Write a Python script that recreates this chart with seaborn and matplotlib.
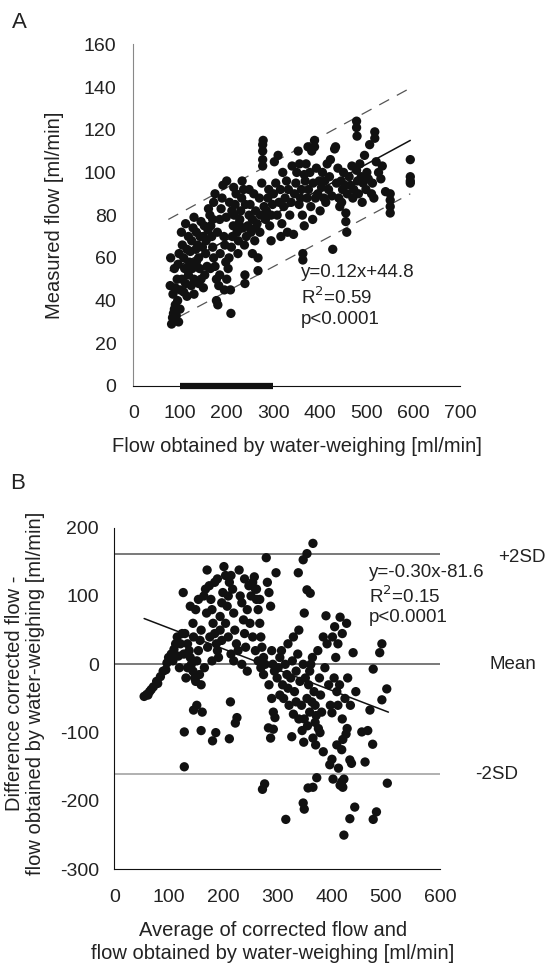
import numpy as np
import pandas as pd
import seaborn as sns
import matplotlib.pyplot as plt

# panel A: measured flow vs flow from water-weighing
a_x = [80, 79, 82, 84, 86, 88, 90, 92, 95, 85, 90, 94, 88, 96, 98, 100, 100, 97,
       103, 105, 108, 110, 104, 112, 115, 118, 120, 122, 125, 118, 112, 128, 126, 130, 130, 115, 108, 124,
       130, 135, 138, 140, 142, 145, 135, 148, 150, 152, 155, 158, 145, 140, 150, 156, 160, 134, 143, 153,
       161, 164, 166, 168, 170, 172, 175, 178, 178, 181, 183, 185, 180, 185, 188, 190, 192, 194, 196, 198,
       200, 170, 175, 186, 165, 195, 199, 172,
       200, 203, 205, 208, 209, 210, 212, 214, 216, 218, 220, 222, 225, 228, 230, 232, 233, 235, 238, 239,
       239, 236, 206, 224, 215, 240, 226, 211,
       242, 245, 248, 250, 252, 255, 258, 260, 262, 265, 267, 267, 270, 272, 275, 277, 277, 277, 277, 278,
       280, 255, 248, 262, 271,
       283, 285, 288, 290, 292, 295, 298, 300, 302, 305, 308, 310, 312, 315, 318, 320, 322, 325, 328, 330,
       332, 335, 338, 340, 343, 295, 316,
       345, 348, 350, 353, 355, 358, 360, 362, 363, 363, 366, 368, 370, 372, 375, 378, 380, 382, 385, 388,
       388, 390, 392, 395, 398, 400, 356, 374, 384, 366,
       403, 405, 408, 410, 412, 415, 418, 420, 425, 427, 431, 433, 435, 438, 440, 442, 445, 448, 450, 453,
       455, 455, 457, 458, 446, 422,
       462, 465, 468, 470, 472, 478, 478, 479, 478, 480, 482, 485, 488, 490, 492, 495, 498, 500, 503, 506,
       510, 512, 517, 517, 520, 515,
       525, 530, 533, 540, 550, 550, 550, 550, 593, 593, 593, 593]
a_y = [60, 47, 29, 32, 34, 36, 38, 33, 40, 43, 46, 50, 55, 57, 62, 45, 36, 30,
       72, 66, 60, 55, 50, 48, 42, 52, 58, 63, 68, 70, 76, 74, 55, 50, 43, 64, 44, 47,
       79, 72, 66, 60, 55, 50, 58, 65, 70, 75, 62, 56, 77, 48, 46, 68, 73, 64, 70, 52,
       83, 80, 75, 70, 65, 60, 56, 50, 40, 38, 47, 52, 72, 78, 83, 88, 94, 70, 66, 58,
       96, 78, 90, 62, 55, 45, 79, 86,
       50, 55, 60, 45, 34, 65, 70, 75, 80, 85, 90, 72, 68, 78, 82, 88, 96, 74, 66, 52,
       48, 92, 86, 62, 93, 85, 76, 82,
       70, 75, 80, 85, 72, 78, 90, 68, 82, 76, 60, 54, 88, 80, 95, 103, 106, 110, 113, 115,
       84, 62, 92, 74, 72,
       78, 82, 88, 92, 75, 80, 85, 90, 105, 95, 80, 108, 86, 92, 76, 100, 84, 88, 96, 72,
       92, 80, 86, 103, 71, 68, 70,
       90, 95, 100, 110, 85, 88, 92, 80, 62, 59, 75, 96, 104, 88, 92, 100, 84, 110, 95, 115,
       112, 88, 102, 90, 96, 82, 104, 112, 78, 99,
       93, 100, 88, 96, 86, 104, 92, 98, 89, 64, 111, 112, 95, 102, 88, 84, 96, 92, 100, 94,
       81, 77, 72, 90, 86, 106,
       98, 94, 103, 88, 92, 124, 121, 117, 101, 96, 90, 104, 98, 86, 95, 108, 92, 100, 97, 113,
       90, 95, 119, 116, 105, 88,
       100, 97, 103, 91, 90, 87, 84, 81, 106, 98, 96, 95]

# regression line and limits of agreement (endpoints)
a_fit_x = [79, 593]
a_fit_y = [54, 115]
a_up_x = [75, 593]
a_up_y = [78, 139.5]
a_lo_x = [99, 593]
a_lo_y = [32.5, 90]
a_bar_x = [100, 300]
a_bar_y = [0, 0]

# panel B: Bland-Altman style difference plot
b_x = [55, 60, 65, 72, 78, 85, 90, 97, 103, 110, 116, 113, 105, 95, 80, 68, 62, 100, 108, 118, 120, 122, 125,
       127, 130, 135, 138, 140, 142, 145, 148, 150, 152, 155, 158, 160, 145, 150, 155, 140, 135, 128, 132,
       146, 157, 160, 146, 152, 162, 129, 129, 160,
       165, 168, 171, 175, 178, 180, 182, 185, 188, 190, 192, 195, 198, 200, 202, 170, 172, 176, 185, 190,
       195, 166, 181, 187, 180, 198,
       205, 208, 210, 212, 215, 218, 220, 222, 225, 228, 230, 232, 235, 238, 240, 242, 245, 248, 250, 210,
       215, 220, 235, 245, 212, 214, 223, 226, 205, 240,
       252, 255, 258, 260, 262, 265, 268, 270, 272, 275, 278, 280, 282, 285, 288, 290, 292, 295, 298, 300,
       255, 260, 265, 270, 275, 285, 290, 273, 277, 284, 288, 293, 293, 296, 262, 268,
       302, 305, 308, 310, 312, 315, 318, 320, 322, 325, 328, 330, 332, 335, 338, 340, 342, 345, 348, 350,
       316, 327, 330, 339, 348, 350, 346, 349, 348, 350, 335, 320, 305, 340,
       352, 355, 355, 361, 366, 357, 366, 366, 371, 373, 376, 379, 385, 355, 358, 360, 362, 365, 368, 370,
       372, 375, 378, 380, 382, 385, 388, 390, 392, 395, 398, 360, 356, 364, 370,
       401, 397, 401, 403, 413, 410, 416, 419, 421, 423, 423, 419, 421, 427, 429, 434, 434, 437, 443, 416,
       428, 440, 405, 408, 410, 412, 415, 420, 425, 430, 435, 445, 402, 406, 420, 412,
       456, 467, 462, 471, 476, 477, 483, 503, 477, 493, 489, 502, 493]
b_y = [-47, -44, -40, -33, -25, -18, -10, 2, 8, 22, 40, 30, 15, -8, -28, -37, -45, 10, 5, 12, -5, 30, 45,
       105, 45, 30, 20, 10, 0, -10, -20, -25, 5, 20, 35, 50, 60, 80, 95, 85, -5, 15, -20,
       40, -15, -30, -67, -60, -70, -99, -150, -97,
       100, 110, 138, 115, 95, 80, 60, 45, 30, 20, 10, 70, 90, 105, 143, 75, 25, 40, 120, 125,
       50, -5, -112, -100, 5, 35,
       60, 85, 100, 120, 130, 110, 75, 50, 30, 20, 138, 100, 90, 65, 45, 25, 80, 115, 60, 40,
       15, 5, 0, -10, -109, -55, -86, -78, 130, 125,
       100, 120, 128, 110, 95, 80, 60, 40, 25, 10, 0, 156, 120, 105, 85, 20, 0, -10, 134, -20,
       40, 20, 5, -5, -15, -30, -50, -183, -175, -93, -108, -95, -70, -78, 110, 95,
       -5, 10, 20, -30, -50, 0, -15, 30, -60, -20, 5, 40, -40, -10, 15, 50, -25, -60, 0, -80,
       -227, -106, -73, 134, 153, 75, -97, -114, -203, -212, -55, -35, -45, -80,
       -20, 162, 109, 104, 177, -181, -180, -108, -118, -166, -94, -100, -128, -50, -30, -10, 0, 10, -40, -60,
       -75, 20, -20, -45, -70, 40, -5, 71, 30, -30, -60, -70, -90, -55, -85,
       -71, -147, -139, -168, -152, -118, -177, -172, -180, -168, -250, -125, -110, -102, -94, -226, -140, -145, -209, 69,
       60, 17, -20, 10, -40, -60, -30, -80, -50, -20, -60, -40, 40, 55, 45, 30,
       -99, -97, -143, -67, -117, -227, -216, -174, -7, 30, 17, -36, -52]

b_fit_x = [55, 505]
b_fit_y = [67, -70]
b_mean = 0
b_sd2 = 161

df_a = pd.DataFrame({'x': a_x, 'y': a_y})
df_b = pd.DataFrame({'x': b_x, 'y': b_y})

sns.set_style('white')
plt.rcParams['font.family'] = ['Liberation Sans', 'DejaVu Sans']
plt.rcParams['axes.unicode_minus'] = False
txt = '#222222'
fs_tick = 14
fs_lab = 14.5
fs_ann = 13.5

fig = plt.figure(figsize=(5.46, 9.65), dpi=100)
axA = fig.add_axes([0.2441, 0.600, 0.5989, 0.3541])
axB = fig.add_axes([0.2093, 0.0992, 0.5965, 0.3540])

# ---- panel A ----
sns.scatterplot(data=df_a, x='x', y='y', ax=axA, color='#111111', s=45, edgecolor='none', zorder=3)
sns.lineplot(x=a_fit_x, y=a_fit_y, ax=axA, color='#111111', lw=1.1)
sns.lineplot(x=a_up_x, y=a_up_y, ax=axA, color='#555555', lw=0.9)
sns.lineplot(x=a_lo_x, y=a_lo_y, ax=axA, color='#555555', lw=0.9)
for l in axA.lines[1:]:
    l.set_linestyle((0, (9, 7)))
axA.plot(a_bar_x, a_bar_y, color='#111111', lw=4.5, solid_capstyle='butt', clip_on=False, zorder=4)

axA.set_xlim(0, 700)
axA.set_ylim(0, 160)
axA.set_xticks(np.arange(0, 701, 100))
axA.set_yticks(np.arange(0, 161, 20))
sns.despine(ax=axA)
axA.spines['left'].set_color('#888888')
axA.spines['bottom'].set_color('#111111')
axA.tick_params(axis='y', direction='out', length=6, width=1, color='#999999', pad=6, labelsize=fs_tick, labelcolor=txt)
axA.tick_params(axis='x', direction='out', length=6, width=1, color='#111111', pad=8, labelsize=fs_tick, labelcolor=txt)
axA.set_xlabel('Flow obtained by water-weighing [ml/min]', fontsize=fs_lab, color=txt, va='center')
axA.set_ylabel('Measured flow [ml/min]', fontsize=fs_lab, color=txt, va='center')
axA.xaxis.set_label_coords(0.50, -0.178)
axA.yaxis.set_label_coords(-0.24, 0.50)
axA.text(358, 53, 'y=0.12x+44.8', fontsize=fs_ann, color=txt, va='center')
axA.text(358, 41.5, 'R$^2$=0.59', fontsize=fs_ann, color=txt, va='center')
axA.text(358, 31, 'p<0.0001', fontsize=fs_ann, color=txt, va='center')

# ---- panel B ----
sns.scatterplot(data=df_b, x='x', y='y', ax=axB, color='#111111', s=45, edgecolor='none', zorder=3)
sns.lineplot(x=b_fit_x, y=b_fit_y, ax=axB, color='#111111', lw=1.1)
axB.axhline(b_sd2, color='#555555', lw=1.1)
axB.axhline(b_mean, color='#555555', lw=1.1)
axB.axhline(-b_sd2, color='#aaaaaa', lw=1.3)

axB.set_xlim(0, 600)
axB.set_ylim(-300, 200)
axB.set_xticks(np.arange(0, 601, 100))
axB.set_yticks(np.arange(-300, 201, 100))
sns.despine(ax=axB)
axB.spines['left'].set_color('#111111')
axB.spines['bottom'].set_color('#111111')
axB.tick_params(axis='y', direction='out', length=6, width=1, color='#111111', pad=5, labelsize=fs_tick, labelcolor=txt)
axB.tick_params(axis='x', direction='out', length=6, width=1, color='#111111', pad=8, labelsize=fs_tick, labelcolor=txt)
axB.get_yticklines()[-2].set_color('#aaaaaa')
axB.set_xlabel('Average of corrected flow and\nflow obtained by water-weighing [ml/min]',
               fontsize=fs_lab, color=txt, linespacing=1.25, va='center')
axB.set_ylabel('Difference corrected flow -\nflow obtained by water-weighing [ml/min]',
               fontsize=fs_lab, color=txt, linespacing=1.15, va='center')
axB.xaxis.set_label_coords(0.487, -0.213)
axB.yaxis.set_label_coords(-0.274, 0.516)
axB.text(469, 134, 'y=-0.30x-81.6', fontsize=fs_ann, color=txt, va='center')
axB.text(469, 100, 'R$^2$=0.15', fontsize=fs_ann, color=txt, va='center')
axB.text(469, 68, 'p<0.0001', fontsize=fs_ann, color=txt, va='center')
axB.text(708, 157, '+2SD', fontsize=fs_ann, color=txt, va='center', clip_on=False)
axB.text(692, 0, 'Mean', fontsize=fs_ann, color=txt, va='center', clip_on=False)
axB.text(665, -161, '-2SD', fontsize=fs_ann, color=txt, va='center', clip_on=False)

fig.text(19 / 546, 1 - 22 / 965, 'A', fontsize=16, color=txt, ha='center', va='center')
fig.text(18 / 546, 1 - 484 / 965, 'B', fontsize=16, color=txt, ha='center', va='center')

fig.savefig('out.png', dpi=100)
